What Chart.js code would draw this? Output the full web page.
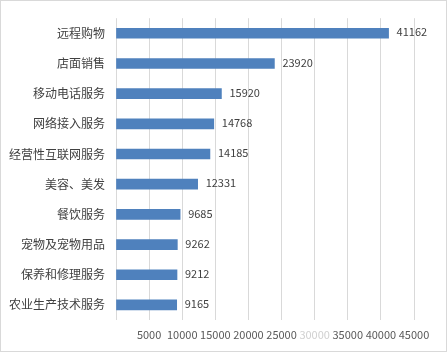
<!DOCTYPE html>
<html><head><meta charset="utf-8">
<script src="https://cdn.jsdelivr.net/npm/chart.js@4"></script>
<style>html,body{margin:0;padding:0;background:#fff}canvas{display:block}</style>
</head><body>
<canvas id="c" width="447" height="352"></canvas>
<script>
const categories = ["远程购物","店面销售","移动电话服务","网络接入服务","经营性互联网服务","美容、美发","餐饮服务","宠物及宠物用品","保养和修理服务","农业生产技术服务"];
const values = [41162,23920,15920,14768,14185,12331,9685,9262,9212,9165];
const xTicks = [0,5000,10000,15000,20000,25000,30000,35000,40000,45000];

const FONT = '"Noto Sans CJK SC","Microsoft YaHei",sans-serif';

const labelPlugin = {
  id:'vals',
  afterDatasetsDraw(chart){
    const ctx = chart.ctx;
    const meta = chart.getDatasetMeta(0);
    ctx.save();
    ctx.font = '11px ' + FONT;
    ctx.fillStyle = '#404040';
    ctx.textBaseline = 'middle';
    ctx.textAlign = 'left';
    meta.data.forEach((el,i)=>{
      ctx.fillText(String(values[i]), el.x + 8, el.y - 1);
    });
    ctx.restore();
  },
  afterDraw(chart){
    const ctx = chart.ctx;
    ctx.save();
    ctx.strokeStyle = '#d9d9d9';
    ctx.lineWidth = 1;
    ctx.strokeRect(0.5,0.5,chart.width-1,chart.height-1);
    ctx.restore();
  }
};

new Chart(document.getElementById('c'), {
  type:'bar',
  data:{
    labels:categories,
    datasets:[{data:values, backgroundColor:'#4F81BD', borderWidth:0, barThickness:10}]
  },
  options:{
    indexAxis:'y',
    responsive:false,
    animation:false,
    events:[],
    layout:{padding:{top:14,right:33,left:0,bottom:0}},
    plugins:{legend:{display:false},tooltip:{enabled:false}},
    scales:{
      x:{
        min:0,max:45000,
        afterBuildTicks(s){ s.ticks = xTicks.map(v=>({value:v})); },
        afterFit(s){ s.height = 32; },
        grid:{color:'#d9d9d9', drawTicks:false},
        border:{display:false},
        ticks:{
          padding:8,
          maxRotation:0,
          autoSkip:false,
          font:{size:11, family:FONT},
          color:(c)=> c.tick && c.tick.value===30000 ? '#d0d0d0' : '#595959',
          callback:(v)=> v===0 ? '' : String(v)
        }
      },
      y:{
        afterFit(s){ s.width = 116; },
        grid:{display:false, drawTicks:false},
        border:{display:false},
        ticks:{padding:11, font:{size:12, family:FONT}, color:'#404040'}
      }
    }
  },
  plugins:[labelPlugin]
});
</script>
</body></html>
